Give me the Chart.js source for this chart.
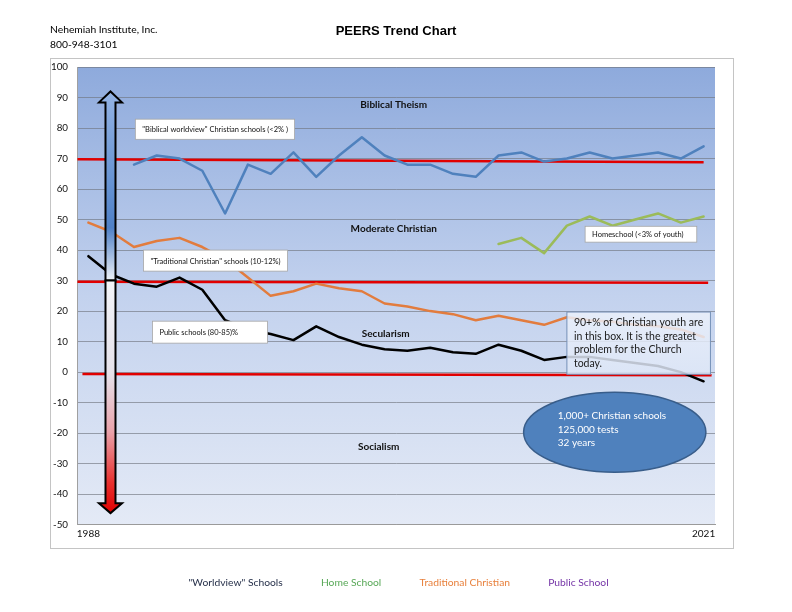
<!DOCTYPE html>
<html>
<head>
<meta charset="utf-8">
<title>PEERS Trend Chart</title>
<script src="https://cdn.jsdelivr.net/npm/chart.js@4.4.1/dist/chart.umd.min.js"></script>
<style>
  html, body { margin: 0; padding: 0; background: #fff; }
</style>
</head>
<body>
<canvas id="myChart" width="792" height="612"></canvas>
<script>
// test rounds, first and last labelled
let years = ['1988', '', '', '', '', '', '', '', '', '', '', '', '', '', '',
             '', '', '', '', '', '', '', '', '', '', '', '', '2021'];

let worldview = [null, null, 68, 71, 70, 66, 52, 68, 65, 72, 64, 71, 77, 71,
                 68, 68, 65, 64, 71, 72, 69, 70, 72, 70, 71, 72, 70, 74];
let homeschool = [null, null, null, null, null, null, null, null, null, null,
                  null, null, null, null, null, null, null, null,
                  42, 44, 39, 48, 51, 48, 50, 52, 49, 51];
let traditional = [49, 46, 41, 43, 44, 41, 37, 31, 25, 26.5, 29, 27.5, 26.5, 22.5,
                   21.5, 20, 19, 17, 18.5, 17, 15.5, 18, 17, 16.5, 15.5, 15, 14, 11.5];
let publicSchool = [38, 32, 29, 28, 31, 27, 17, 14, 12.5, 10.5, 15, 11.5, 9, 7.5,
                    7, 8, 6.5, 6, 9, 7, 4, 5, 5, 4, 3, 2, 0, -3];

let seriesNames = ['"Worldview" Schools', 'Home School', 'Traditional Christian', 'Public School'];
let legendColors = ['#26304a', '#58a857', '#e8803c', '#7434a6'];

// annotation layout (x in category steps, y in axis units)
let redLines = [
  {x0: -0.48, x1: 27.0, y0: 69.8, y1: 68.8},
  {x0: -0.48, x1: 27.2, y0: 29.6, y1: 29.3},
  {x0: -0.26, x1: 27.35, y0: -0.6, y1: -1.0}
];
let zones = [
  {text: 'Biblical Theism', x: 13.4, y: 87.5},
  {text: 'Moderate Christian', x: 13.4, y: 47},
  {text: 'Secularism', x: 13.05, y: 12.5},
  {text: 'Socialism', x: 12.74, y: -24.5}
];
let notes = [
  {text: '"Biblical worldview" Christian schools (<2% )', x0: 2.06, x1: 9.05, y0: 82.9, y1: 76.3},
  {text: '"Traditional Christian" schools (10-12%)', x0: 2.42, x1: 8.74, y0: 40.0, y1: 33.1},
  {text: 'Public schools (80-85)%', x0: 2.81, x1: 7.86, y0: 16.7, y1: 9.5},
  {text: 'Homeschool (<3% of youth)', x0: 21.8, x1: 26.7, y0: 47.8, y1: 42.6}
];
let bigNote = {
  lines: ['90+% of Christian youth are', 'in this box. It is the greatet', 'problem for the Church', 'today.'],
  x0: 21.0, x1: 27.3, y0: 19.7, y1: -0.7
};
let bubble = {
  lines: ['1,000+ Christian schools', '125,000 tests', '32 years'],
  x: 23.1, y: -19.7, rx: 4.0, ry: 13.1
};
let arrow = {x: 0.97, tip: 92, base: 88.4, split: 30, base2: -43, tip2: -46.2};

function px(chart, i) {
  var x = chart.scales.x;
  var step = x.getPixelForValue(1) - x.getPixelForValue(0);
  return x.getPixelForValue(0) + i * step;
}
function py(chart, v) {
  return chart.scales.y.getPixelForValue(v);
}

var decor = {
  id: 'decor',
  beforeDraw: function(chart) {
    var ctx = chart.ctx, a = chart.chartArea;
    ctx.save();
    ctx.fillStyle = '#fff';
    ctx.fillRect(0, 0, chart.width, chart.height);
    ctx.strokeStyle = '#c4c4c4';
    ctx.lineWidth = 1;
    ctx.strokeRect(50.5, 58.5, 683, 490);
    var g = ctx.createLinearGradient(0, a.top, 0, a.bottom);
    g.addColorStop(0, '#8eaadc');
    g.addColorStop(0.5, '#c3d2ee');
    g.addColorStop(1, '#e4eaf6');
    ctx.fillStyle = g;
    ctx.fillRect(a.left, a.top, a.right - a.left, a.bottom - a.top);

    ctx.fillStyle = '#000';
    ctx.textBaseline = 'middle';
    ctx.textAlign = 'left';
    ctx.font = '10.3px Lato';
    ctx.fillText('Nehemiah Institute, Inc.', 50, 29.5);
    ctx.fillText('800-948-3101', 50, 45);
    ctx.textAlign = 'center';
    ctx.font = 'bold 13px "Liberation Sans"';
    ctx.fillText('PEERS Trend Chart', 396, 31);
    ctx.restore();
  },
  beforeDatasetsDraw: function(chart) {
    var ctx = chart.ctx;
    ctx.save();
    ctx.strokeStyle = '#e10000';
    ctx.lineWidth = 2.5;
    redLines.forEach(function(r) {
      ctx.beginPath();
      ctx.moveTo(px(chart, r.x0), py(chart, r.y0));
      ctx.lineTo(px(chart, r.x1), py(chart, r.y1));
      ctx.stroke();
    });
    ctx.restore();
  },
  afterDatasetsDraw: function(chart) {
    var ctx = chart.ctx;
    ctx.save();

    // double arrow
    var cx = px(chart, arrow.x), hw = 5, HW = 11.5;
    var yTip = py(chart, arrow.tip), yBase = py(chart, arrow.base), ySplit = py(chart, arrow.split);
    var yBase2 = py(chart, arrow.base2), yTip2 = py(chart, arrow.tip2);
    var gu = ctx.createLinearGradient(0, yTip, 0, ySplit);
    gu.addColorStop(0, '#94b3e3');
    gu.addColorStop(0.5, '#6592d2');
    gu.addColorStop(0.72, '#4f80c6');
    gu.addColorStop(1, '#eef2f8');
    ctx.beginPath();
    ctx.moveTo(cx - hw, ySplit);
    ctx.lineTo(cx - hw, yBase);
    ctx.lineTo(cx - HW, yBase);
    ctx.lineTo(cx, yTip);
    ctx.lineTo(cx + HW, yBase);
    ctx.lineTo(cx + hw, yBase);
    ctx.lineTo(cx + hw, ySplit);
    ctx.closePath();
    ctx.fillStyle = gu;
    ctx.fill();
    ctx.strokeStyle = '#000';
    ctx.lineWidth = 2;
    ctx.stroke();
    var gd = ctx.createLinearGradient(0, ySplit, 0, yTip2);
    gd.addColorStop(0, '#f3f4f8');
    gd.addColorStop(0.4, '#e6e2ea');
    gd.addColorStop(0.65, '#eaa2aa');
    gd.addColorStop(0.87, '#e8302e');
    gd.addColorStop(1, '#e00000');
    ctx.beginPath();
    ctx.moveTo(cx - hw, ySplit);
    ctx.lineTo(cx - hw, yBase2);
    ctx.lineTo(cx - HW, yBase2);
    ctx.lineTo(cx, yTip2);
    ctx.lineTo(cx + HW, yBase2);
    ctx.lineTo(cx + hw, yBase2);
    ctx.lineTo(cx + hw, ySplit);
    ctx.closePath();
    ctx.fillStyle = gd;
    ctx.fill();
    ctx.stroke();

    // small white label boxes
    ctx.font = '7.5px Lato';
    ctx.textBaseline = 'middle';
    ctx.textAlign = 'left';
    notes.forEach(function(n) {
      var l = px(chart, n.x0), r = px(chart, n.x1), t = py(chart, n.y0), b = py(chart, n.y1);
      ctx.fillStyle = '#fff';
      ctx.fillRect(l, t, r - l, b - t);
      ctx.strokeStyle = '#a6a6a6';
      ctx.lineWidth = 0.8;
      ctx.strokeRect(l, t, r - l, b - t);
      ctx.fillStyle = '#111';
      ctx.fillText(n.text, l + 7, (t + b) / 2 + 0.5);
    });

    // see-through box
    var l = px(chart, bigNote.x0), r = px(chart, bigNote.x1);
    var t = py(chart, bigNote.y0), b = py(chart, bigNote.y1);
    var gb = ctx.createLinearGradient(0, t, 0, b);
    gb.addColorStop(0, 'rgba(236,241,251,0.84)');
    gb.addColorStop(1, 'rgba(222,231,247,0.84)');
    ctx.fillStyle = gb;
    ctx.fillRect(l, t, r - l, b - t);
    ctx.strokeStyle = '#7590b8';
    ctx.lineWidth = 1;
    ctx.strokeRect(l, t, r - l, b - t);
    ctx.fillStyle = '#1a1a1a';
    ctx.font = '10.5px Lato';
    bigNote.lines.forEach(function(s, i) {
      ctx.fillText(s, l + 7, t + 11 + i * 13.5);
    });

    // ellipse
    var ex = px(chart, bubble.x), ey = py(chart, bubble.y);
    var erx = px(chart, bubble.x + bubble.rx) - ex;
    var ery = py(chart, bubble.y - bubble.ry) - ey;
    ctx.beginPath();
    ctx.ellipse(ex, ey, erx, ery, 0, 0, Math.PI * 2);
    ctx.fillStyle = '#4f81bd';
    ctx.fill();
    ctx.strokeStyle = '#385d8a';
    ctx.lineWidth = 1.5;
    ctx.stroke();
    ctx.fillStyle = '#fff';
    ctx.font = '10px Lato';
    bubble.lines.forEach(function(s, i) {
      ctx.fillText(s, ex - 57, ey - 16 + i * 13.5);
    });

    // zone names
    ctx.font = 'bold 10px Lato';
    ctx.textAlign = 'center';
    ctx.fillStyle = '#111';
    zones.forEach(function(z) {
      ctx.fillText(z.text, px(chart, z.x), py(chart, z.y));
    });
    ctx.restore();
  }
};

var config = {
  type: 'line',
  data: {
    labels: years,
    datasets: [
      {label: seriesNames[0], data: worldview, borderColor: '#4f81bd', borderWidth: 2.5},
      {label: seriesNames[1], data: homeschool, borderColor: '#9bbb59', borderWidth: 2.5},
      {label: seriesNames[2], data: traditional, borderColor: '#e27c3e', borderWidth: 2.5},
      {label: seriesNames[3], data: publicSchool, borderColor: '#000000', borderWidth: 2.5}
    ]
  },
  options: {
    responsive: false,
    animation: false,
    devicePixelRatio: 1,
    elements: {
      point: {radius: 0},
      line: {tension: 0, fill: false, borderCapStyle: 'round', borderJoinStyle: 'round'}
    },
    layout: {padding: {left: 50, right: 77, top: 67, bottom: 14}},
    scales: {
      x: {
        offset: true,
        grid: {display: false, drawTicks: false},
        border: {display: true, color: '#9a9a9a'},
        ticks: {
          autoSkip: false, maxRotation: 0, padding: 3,
          color: '#111', font: {family: 'Lato', size: 10}
        },
        afterFit: function(scale) { scale.height = 20; }
      },
      y: {
        min: -50, max: 100,
        grid: {color: 'rgba(112,116,126,0.8)', lineWidth: 0.8, drawTicks: false},
        border: {display: true, color: '#a0a0a0'},
        ticks: {
          stepSize: 10, padding: 9,
          color: '#111', font: {family: 'Lato', size: 9.8}
        },
        afterFit: function(scale) { scale.width = 27; }
      }
    },
    plugins: {
      tooltip: {enabled: false},
      legend: {
        position: 'bottom',
        fullSize: false,
        labels: {
          boxWidth: 0, boxHeight: 0, padding: 33,
          font: {family: 'Lato', size: 10.3},
          generateLabels: function(chart) {
            return chart.data.datasets.map(function(ds, i) {
              return {
                text: ds.label, fontColor: legendColors[i],
                fillStyle: 'rgba(0,0,0,0)', strokeStyle: 'rgba(0,0,0,0)',
                lineWidth: 0, hidden: false, datasetIndex: i
              };
            });
          }
        }
      }
    }
  },
  plugins: [decor]
};

var ctx = document.getElementById('myChart').getContext('2d');
window.myLine = new Chart(ctx, config);
</script>
</body>
</html>
